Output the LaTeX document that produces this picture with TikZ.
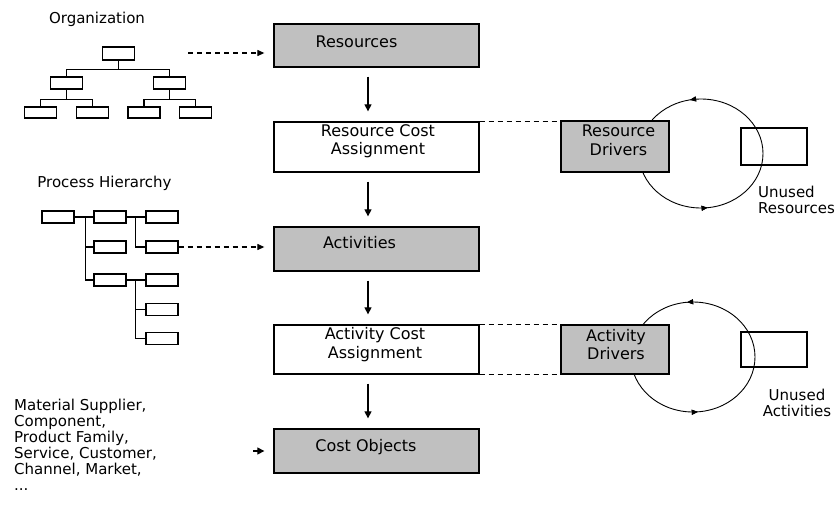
\documentclass[tikz,border=0pt]{standalone}
\usepackage{fontspec}
\setmainfont{DejaVu Sans}
\usetikzlibrary{arrows.meta,decorations.markings}
\definecolor{boxgray}{HTML}{C0C0C0}
\begin{document}
\begin{tikzpicture}[x=1pt,y=-1pt,
  gbox/.style={draw, fill=boxgray, line width=1.3pt, minimum width=205pt, inner sep=0pt},
  wbox/.style={draw, fill=white, line width=1.3pt, minimum width=205pt, inner sep=0pt},
  sbox/.style={draw, line width=1.2pt, minimum width=32pt, minimum height=12pt, inner sep=0pt},
  ubox/.style={draw, line width=1.2pt, minimum width=66pt, inner sep=0pt},
  btxt/.style={inner sep=0pt, align=center, font=\fontsize{16}{18.5}\selectfont},
  ltxt/.style={inner sep=0pt, font=\fontsize{15}{16}\selectfont},
  flow/.style={line width=1.2pt, -{Triangle[length=7pt,width=7pt]}},
  dline/.style={line width=1.2pt, dash pattern=on 5pt off 4pt},
  tline/.style={line width=1.2pt},
  cyc/.style={line width=0.9pt, postaction={decorate}, decoration={markings,
     mark=at position #1 with {\arrowreversed{Triangle[length=6pt,width=5pt]}}}},
]
\useasboundingbox (0,0) rectangle (838,509);

% ---------- cycles (drawn first, boxes cover them) ----------
\draw[cyc=0.232, cyc=0.72] (701,153.5) ellipse [x radius=62, y radius=54.5];
\draw[cyc=0.237, cyc=0.734] (693,357) ellipse [x radius=62, y radius=55];

% ---------- main column ----------
\node[gbox, minimum height=43pt] (res) at (376.5,45.5) {};
\node[wbox, minimum height=50pt] (rca) at (376.5,147) {};
\node[gbox, minimum height=44pt] (act) at (376.5,249) {};
\node[wbox, minimum height=49pt] (aca) at (376.5,349.5) {};
\node[gbox, minimum height=44pt] (co)  at (376.5,451) {};

\node[btxt] (resT) at (356.5,42) {Resources};
\node[btxt] (rcaT) at (378,141) {Resource Cost\\Assignment};
\node[btxt] (actT) at (359.5,243) {Activities};
\node[btxt] (acaT) at (375,344.5) {Activity Cost\\Assignment};
\node[btxt] (coT)  at (366,447) {Cost Objects};

\draw[flow] ([xshift=-8.5pt,yshift=-9pt]res.south) -- ([xshift=-8.5pt,yshift=10pt]rca.north);
\draw[flow] ([xshift=-8.5pt,yshift=-9pt]rca.south) -- ([xshift=-8.5pt,yshift=10pt]act.north);
\draw[flow] ([xshift=-8.5pt,yshift=-9pt]act.south) -- ([xshift=-8.5pt,yshift=10pt]aca.north);
\draw[flow] ([xshift=-8.5pt,yshift=-9pt]aca.south) -- ([xshift=-8.5pt,yshift=10pt]co.north);

% ---------- drivers ----------
\node[gbox, minimum width=108pt, minimum height=51pt] (rd) at (615,146.5) {};
\node[btxt] (rdT) at (618.5,140.5) {Resource\\Drivers};
\node[gbox, minimum width=108pt, minimum height=49pt] (ad) at (615,349.5) {};
\node[btxt] (adT) at (616,344.5) {Activity\\Drivers};

\draw[dline] (rca.north east) -- (rca.north east -| rd.west);
\draw[dline] (aca.north east) -- (aca.north east -| ad.west);
\draw[dline] (aca.south east) -- (aca.south east -| ad.west);

% ---------- unused ----------
\node[ubox, minimum height=37pt] (ur) at (774,146.5) {};
\node[ubox, minimum height=35pt] (ua) at (774,349.5) {};
\node[ltxt, anchor=north west, align=left] (urT) at (758,186) {Unused\\Resources};
\node[ltxt, align=center] (uaT) at (797,402.5) {Unused\\Activities};

% ---------- organization tree ----------
\node[ltxt] (orgL) at (97,19) {Organization};
\node[sbox, minimum height=13pt] (o1) at (118.5,53.5) {};
\node[sbox] (o2a) at (66.5,83) {};
\node[sbox] (o2b) at (169.5,83) {};
\node[sbox, minimum height=11pt] (o3a) at (40.5,112.5) {};
\node[sbox, minimum height=11pt] (o3b) at (92.5,112.5) {};
\node[sbox, minimum height=11pt] (o3c) at (144,112.5) {};
\node[sbox, minimum height=11pt] (o3d) at (195.5,112.5) {};
\draw[tline] (o1.south) -- ++(0,8.5) -| (o2a.north);
\draw[tline] (o1.south) -- ++(0,8.5) -| (o2b.north);
\draw[tline] (o2a.south) -- ++(0,10) -| (o3a.north);
\draw[tline] (o2a.south) -- ++(0,10) -| (o3b.north);
\draw[tline] (o2b.south) -- ++(0,10) -| (o3c.north);
\draw[tline] (o2b.south) -- ++(0,10) -| (o3d.north);

\coordinate (orgS) at (188,53);
\coordinate (resIn) at ([xshift=-9pt]res.west);
\draw[dline, -{Triangle[length=7pt,width=6pt]}] (orgS) -- (orgS -| resIn);

% ---------- process hierarchy ----------
\node[ltxt] (procL) at (104.5,183) {Process Hierarchy};
\node[sbox] (p11) at (58,217) {};
\node[sbox] (p12) at (110,217) {};
\node[sbox] (p13) at (162,217) {};
\node[sbox] (p22) at (110,247) {};
\node[sbox] (p23) at (162,247) {};
\node[sbox] (p32) at (110,280) {};
\node[sbox] (p33) at (162,280) {};
\node[sbox] (p43) at (162,309.5) {};
\node[sbox] (p53) at (162,338.5) {};
\draw[tline] (p11.east) -- (p12.west);
\draw[tline] ([xshift=-8pt]p12.west) |- (p32.west);
\draw[tline] (p22.west) -- ++(-8,0);
\draw[tline] (p12.east) -- (p13.west);
\draw[tline] ([xshift=-10pt]p13.west) |- (p23.west);
\draw[tline] (p32.east) -- (p33.west);
\draw[tline] ([xshift=-10pt]p33.west) |- (p53.west);
\draw[tline] (p43.west) -- ++(-10,0);

\coordinate (actIn) at ([xshift=-9pt]act.west);
\draw[dline, -{Triangle[length=7pt,width=6pt]}] (p23.east) -- (p23.east -| actIn);

% ---------- cost objects list ----------
\node[ltxt, anchor=north west, align=left] (list) at (14,399)
  {Material Supplier,\\Component,\\Product Family,\\Service, Customer,\\Channel, Market,\\...};
\draw[flow] ([xshift=-20pt]co.west) -- ([xshift=-9pt]co.west);
\end{tikzpicture}
\end{document}
